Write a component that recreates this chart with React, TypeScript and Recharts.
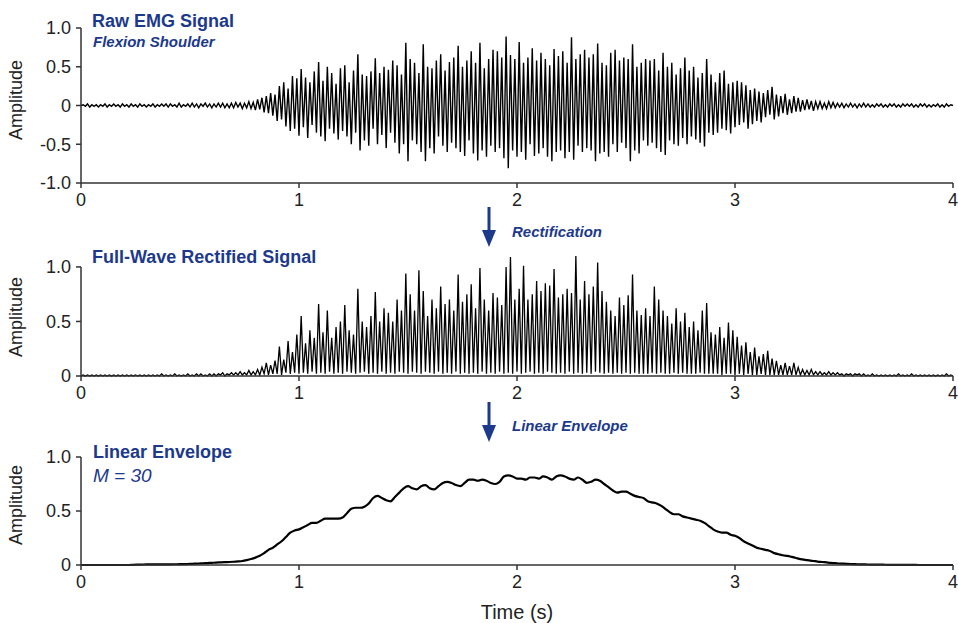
import { Line, LineChart, ReferenceLine, XAxis, YAxis } from "recharts";

// sample spacing (s)
const RAW_STEP = 0.01;
const ENV_STEP = 0.02;

const timeTicks = [0, 1, 2, 3, 4];
const rawTicks = [-1, -0.5, 0, 0.5, 1];
const unitTicks = [0, 0.5, 1];

// raw EMG (10 samples per row = 0.1 s)
const rawSignal = [
  0, 0.01, -0.01, 0.02, -0.02, 0.01, -0.01, 0.01, -0.02, 0.01,
  -0.01, 0.02, -0.02, 0.01, -0.01, 0.02, -0.01, 0.01, -0.02, 0.02,
  -0.01, 0.01, -0.02, 0.02, -0.01, 0.01, -0.02, 0.02, -0.01, 0.01,
  -0.02, 0.01, -0.01, 0.02, -0.02, 0.01, -0.01, 0.02, -0.01, 0.02,
  -0.02, 0.02, -0.01, 0.01, -0.02, 0.03, -0.02, 0.01, -0.01, 0.02,
  -0.02, 0.03, -0.02, 0.02, -0.03, 0.02, -0.01, 0.03, -0.02, 0.02,
  -0.03, 0.02, -0.02, 0.03, -0.02, 0.03, -0.03, 0.02, -0.03, 0.03,
  -0.03, 0.04, -0.02, 0.03, -0.04, 0.03, -0.03, 0.05, -0.04, 0.04,
  -0.06, 0.08, -0.05, 0.1, -0.09, 0.12, -0.1, 0.16, -0.13, 0.14,
  -0.2, 0.25, -0.18, 0.3, -0.27, 0.22, -0.33, 0.38, -0.3, 0.35,
  -0.39, 0.47, -0.28, 0.36, -0.42, 0.3, -0.25, 0.44, -0.35, 0.56,
  -0.4, 0.32, -0.46, 0.5, -0.3, 0.42, -0.36, 0.28, -0.44, 0.48,
  -0.33, 0.52, -0.4, 0.3, -0.5, 0.45, -0.35, 0.66, -0.58, 0.4,
  -0.45, 0.38, -0.52, 0.44, -0.3, 0.61, -0.5, 0.42, -0.38, 0.5,
  -0.55, 0.46, -0.35, 0.58, -0.48, 0.52, -0.62, 0.4, -0.5, 0.81,
  -0.72, 0.6, -0.45, 0.55, -0.5, 0.42, -0.6, 0.79, -0.72, 0.5,
  -0.55, 0.48, -0.62, 0.58, -0.4, 0.66, -0.52, 0.45, -0.6, 0.56,
  -0.48, 0.62, -0.55, 0.77, -0.6, 0.5, -0.65, 0.58, -0.45, 0.7,
  -0.62, 0.55, -0.71, 0.81, -0.58, 0.48, -0.66, 0.6, -0.52, 0.72,
  -0.6, 0.7, -0.55, 0.62, -0.68, 0.89, -0.81, 0.65, -0.58, 0.6,
  -0.66, 0.82, -0.6, 0.55, -0.7, 0.62, -0.5, 0.74, -0.65, 0.58,
  -0.62, 0.68, -0.55, 0.6, -0.66, 0.52, -0.72, 0.73, -0.6, 0.64,
  -0.58, 0.7, -0.68, 0.55, -0.6, 0.88, -0.7, 0.6, -0.52, 0.66,
  -0.6, 0.72, -0.55, 0.62, -0.58, 0.66, -0.72, 0.8, -0.62, 0.55,
  -0.6, 0.52, -0.66, 0.68, -0.5, 0.72, -0.6, 0.58, -0.48, 0.62,
  -0.55, 0.6, -0.72, 0.79, -0.58, 0.5, -0.62, 0.55, -0.45, 0.6,
  -0.52, 0.58, -0.48, 0.6, -0.55, 0.45, -0.6, 0.68, -0.64, 0.5,
  -0.45, 0.55, -0.5, 0.4, -0.52, 0.48, -0.42, 0.62, -0.5, 0.45,
  -0.4, 0.5, -0.44, 0.36, -0.48, 0.42, -0.53, 0.6, -0.35, 0.4,
  -0.38, 0.3, -0.35, 0.42, -0.3, 0.45, -0.32, 0.28, -0.36, 0.3,
  -0.28, 0.32, -0.25, 0.3, -0.22, 0.26, -0.3, 0.2, -0.24, 0.22,
  -0.2, 0.18, -0.22, 0.16, -0.15, 0.2, -0.12, 0.24, -0.18, 0.14,
  -0.14, 0.12, -0.1, 0.15, -0.12, 0.08, -0.1, 0.12, -0.08, 0.1,
  -0.08, 0.07, -0.06, 0.08, -0.05, 0.06, -0.07, 0.05, -0.04, 0.05,
  -0.04, 0.03, -0.04, 0.05, -0.03, 0.04, -0.03, 0.03, -0.02, 0.03,
  -0.03, 0.02, -0.02, 0.03, -0.02, 0.02, -0.03, 0.02, -0.02, 0.03,
  -0.02, 0.02, -0.02, 0.01, -0.02, 0.02, -0.01, 0.02, -0.02, 0.01,
  -0.02, 0.02, -0.01, 0.02, -0.02, 0.01, -0.02, 0.02, -0.01, 0.02,
  -0.01, 0.02, -0.02, 0.01, -0.02, 0.02, -0.01, 0.02, -0.02, 0.01,
  -0.02, 0.01, -0.01, 0.02, -0.02, 0.01, -0.02, 0.02, -0.01, 0.01,
  0,
];

// full-wave rectified signal, middle panel
const rectifiedSignal = [
  0, 0.01, 0, 0.01, 0, 0.01, 0, 0.01, 0, 0.01,
  0, 0.01, 0, 0.01, 0, 0.01, 0, 0.01, 0, 0.01,
  0, 0.01, 0, 0.01, 0, 0.01, 0, 0.01, 0, 0.01,
  0, 0.01, 0, 0.01, 0, 0.01, 0, 0.02, 0, 0.01,
  0, 0.01, 0, 0.02, 0, 0.01, 0, 0.01, 0, 0.02,
  0, 0.01, 0, 0.02, 0, 0.02, 0, 0.01, 0, 0.02,
  0, 0.02, 0, 0.02, 0.01, 0.03, 0, 0.02, 0.01, 0.03,
  0.01, 0.03, 0.01, 0.04, 0.01, 0.03, 0.01, 0.05, 0.01, 0.04,
  0.01, 0.06, 0.01, 0.08, 0.02, 0.12, 0.01, 0.1, 0.02, 0.14,
  0.02, 0.27, 0.01, 0.15, 0.03, 0.32, 0.02, 0.22, 0.03, 0.38,
  0.02, 0.55, 0.03, 0.3, 0.02, 0.42, 0.04, 0.35, 0.02, 0.66,
  0.03, 0.4, 0.02, 0.6, 0.04, 0.35, 0.02, 0.45, 0.03, 0.5,
  0.02, 0.65, 0.04, 0.42, 0.03, 0.38, 0.02, 0.8, 0.03, 0.5,
  0.04, 0.45, 0.02, 0.55, 0.03, 0.77, 0.02, 0.5, 0.04, 0.62,
  0.02, 0.58, 0.03, 0.5, 0.02, 0.7, 0.04, 0.6, 0.03, 0.94,
  0.02, 0.75, 0.04, 0.6, 0.03, 0.97, 0.02, 0.78, 0.04, 0.55,
  0.03, 0.7, 0.02, 0.62, 0.04, 0.82, 0.02, 0.66, 0.03, 0.7,
  0.02, 0.6, 0.04, 0.93, 0.02, 0.68, 0.03, 0.75, 0.02, 0.84,
  0.03, 0.62, 0.02, 0.99, 0.04, 0.7, 0.02, 0.6, 0.03, 0.76,
  0.02, 0.72, 0.04, 0.65, 0.02, 1.0, 0.03, 1.09, 0.02, 0.7,
  0.04, 0.8, 0.02, 1.01, 0.03, 0.7, 0.04, 0.75, 0.02, 0.87,
  0.03, 0.78, 0.02, 0.85, 0.04, 0.83, 0.03, 0.98, 0.02, 0.72,
  0.03, 0.75, 0.02, 0.8, 0.04, 0.76, 0.02, 1.1, 0.03, 0.7,
  0.02, 0.87, 0.03, 0.75, 0.02, 0.82, 0.04, 1.04, 0.03, 0.78,
  0.02, 0.68, 0.03, 0.6, 0.02, 0.55, 0.03, 0.72, 0.02, 0.65,
  0.03, 0.74, 0.02, 0.93, 0.03, 0.6, 0.02, 0.56, 0.02, 0.62,
  0.02, 0.55, 0.03, 0.82, 0.02, 0.7, 0.03, 0.6, 0.02, 0.55,
  0.02, 0.48, 0.03, 0.62, 0.02, 0.5, 0.03, 0.58, 0.02, 0.45,
  0.02, 0.5, 0.02, 0.42, 0.03, 0.6, 0.02, 0.67, 0.02, 0.4,
  0.02, 0.38, 0.02, 0.45, 0.01, 0.35, 0.02, 0.49, 0.02, 0.42,
  0.01, 0.36, 0.02, 0.28, 0.01, 0.31, 0.02, 0.22, 0.01, 0.26,
  0.01, 0.18, 0.02, 0.2, 0.01, 0.23, 0.01, 0.16, 0.01, 0.14,
  0.01, 0.1, 0.01, 0.12, 0.01, 0.09, 0.01, 0.12, 0.01, 0.08,
  0.01, 0.06, 0.01, 0.05, 0.01, 0.06, 0.01, 0.04, 0.01, 0.04,
  0.01, 0.03, 0.01, 0.04, 0.01, 0.03, 0.01, 0.03, 0.01, 0.02,
  0, 0.02, 0.01, 0.02, 0, 0.02, 0.01, 0.02, 0, 0.02,
  0, 0.01, 0, 0.02, 0, 0.01, 0, 0.01, 0, 0.01,
  0, 0.01, 0, 0.01, 0, 0.02, 0, 0.01, 0, 0.01,
  0, 0.02, 0, 0.01, 0, 0.01, 0, 0.01, 0, 0.01,
  0, 0.01, 0, 0.01, 0, 0.01, 0, 0.02, 0, 0.01,
  0,
];

// linear envelope (M = 30), bottom panel, 0.02 s per sample
const envelope = [
  0, 0, 0, 0, 0, 0, 0, 0, 0, 0,
  0, 0, 0.002, 0.003, 0.004, 0.005, 0.005, 0.005, 0.005, 0.006,
  0.006, 0.007, 0.007, 0.008, 0.009, 0.01, 0.012, 0.014, 0.016, 0.018,
  0.02, 0.022, 0.025, 0.027, 0.028, 0.03, 0.033, 0.037, 0.045, 0.055,
  0.068, 0.085, 0.11, 0.14, 0.16, 0.19, 0.22, 0.26, 0.3, 0.32,
  0.33, 0.35, 0.37, 0.39, 0.39, 0.41, 0.43, 0.43, 0.43, 0.43,
  0.44, 0.48, 0.52, 0.53, 0.53, 0.54, 0.57, 0.62, 0.64, 0.62,
  0.6, 0.59, 0.63, 0.67, 0.71, 0.73, 0.71, 0.7, 0.73, 0.74,
  0.71, 0.7, 0.73, 0.76, 0.77, 0.76, 0.74, 0.73, 0.76, 0.79,
  0.79, 0.78, 0.79, 0.78, 0.76, 0.75, 0.77, 0.82, 0.83, 0.82,
  0.8, 0.8, 0.79, 0.81, 0.81, 0.8, 0.82, 0.81, 0.79, 0.82,
  0.83, 0.82, 0.8, 0.79, 0.81, 0.79, 0.76, 0.77, 0.79, 0.78,
  0.75, 0.72, 0.69, 0.67, 0.68, 0.68, 0.66, 0.64, 0.63, 0.62,
  0.59, 0.58, 0.57, 0.55, 0.52, 0.49, 0.47, 0.47, 0.45, 0.44,
  0.43, 0.42, 0.41, 0.39, 0.36, 0.33, 0.31, 0.3, 0.3, 0.28,
  0.27, 0.25, 0.22, 0.2, 0.18, 0.16, 0.15, 0.14, 0.13, 0.11,
  0.1, 0.09, 0.085, 0.075, 0.065, 0.055, 0.048, 0.042, 0.037, 0.032,
  0.028, 0.024, 0.02, 0.017, 0.014, 0.012, 0.01, 0.008, 0.007, 0.006,
  0.005, 0.004, 0.004, 0.003, 0.003, 0.002, 0.002, 0.002, 0.001, 0.001,
  0.001, 0.001, 0, 0, 0, 0, 0, 0, 0, 0,
  0,
];

const toSeries = (values: number[], step: number) =>
  values.map((v, i) => ({ t: Math.round(i * step * 100) / 100, v }));

const FONT = '"Liberation Sans", Arial, sans-serif';
const NAVY = "#1c398c";
const AXIS = "#333";
const tickStyle = { fill: "#222", fontSize: 18, fontFamily: FONT };
const fmtY = (v: number) => (v === 0 ? "0" : v.toFixed(1));

type PanelProps = {
  top: number;
  height: number;
  data: { t: number; v: number }[];
  domain: [number, number];
  yTicks: number[];
  marginTop: number;
  marginBottom: number;
  xHeight: number;
  strokeWidth: number;
  curve: "linear" | "monotone";
  clipAxisAtOne?: boolean;
};

function Panel(p: PanelProps) {
  return (
    <div style={{ position: "absolute", left: 0, top: p.top }}>
      <LineChart
        width={958}
        height={p.height}
        data={p.data}
        margin={{ top: p.marginTop, right: 5, bottom: p.marginBottom, left: 0 }}
      >
        <XAxis
          dataKey="t"
          type="number"
          domain={[0, 4]}
          ticks={timeTicks}
          height={p.xHeight}
          tickSize={5}
          tickMargin={5}
          stroke={AXIS}
          strokeWidth={1.5}
          tick={tickStyle}
        />
        <YAxis
          type="number"
          domain={p.domain}
          ticks={p.yTicks}
          width={81}
          tickSize={5}
          tickMargin={5}
          stroke={AXIS}
          strokeWidth={1.5}
          axisLine={!p.clipAxisAtOne}
          tick={tickStyle}
          tickFormatter={fmtY}
          interval={0}
        />
        {p.clipAxisAtOne && (
          <ReferenceLine
            segment={[
              { x: 0, y: 0 },
              { x: 0, y: 1 },
            ]}
            stroke={AXIS}
            strokeWidth={1.5}
            ifOverflow="visible"
          />
        )}
        <Line
          dataKey="v"
          type={p.curve}
          stroke="#000"
          strokeWidth={p.strokeWidth}
          dot={false}
          isAnimationActive={false}
        />
      </LineChart>
    </div>
  );
}

function Arrow({ top, bottom }: { top: number; bottom: number }) {
  return (
    <g fill={NAVY} stroke={NAVY}>
      <line x1={489} y1={top} x2={489} y2={bottom - 14} strokeWidth={3} />
      <polygon points={`482,${bottom - 17} 496,${bottom - 17} 489,${bottom}`} stroke="none" />
    </g>
  );
}

export default function App() {
  return (
    <div
      style={{
        position: "absolute",
        left: 0,
        top: 0,
        width: 958,
        height: 623,
        background: "#fff",
        overflow: "hidden",
      }}
    >
      <Panel
        top={0}
        height={210}
        data={toSeries(rawSignal, RAW_STEP)}
        domain={[-1, 1]}
        yTicks={rawTicks}
        marginTop={28}
        marginBottom={0}
        xHeight={27}
        strokeWidth={1.4}
        curve="linear"
      />
      <Panel
        top={210}
        height={200}
        data={toSeries(rectifiedSignal, RAW_STEP)}
        domain={[0, 1.1]}
        yTicks={unitTicks}
        marginTop={46}
        marginBottom={7}
        xHeight={27}
        strokeWidth={1.3}
        curve="linear"
        clipAxisAtOne
      />
      <Panel
        top={410}
        height={213}
        data={toSeries(envelope, ENV_STEP)}
        domain={[0, 1]}
        yTicks={unitTicks}
        marginTop={47}
        marginBottom={0}
        xHeight={58}
        strokeWidth={2.2}
        curve="monotone"
      />
      <svg
        width={958}
        height={623}
        style={{ position: "absolute", left: 0, top: 0, pointerEvents: "none" }}
        fontFamily={FONT}
      >
        <text x={92} y={27} fontSize={18} fontWeight="bold" fill={NAVY}>
          Raw EMG Signal
        </text>
        <text x={93} y={47} fontSize={15} fontWeight="bold" fontStyle="italic" fill={NAVY}>
          Flexion Shoulder
        </text>
        <text x={92} y={263} fontSize={18} fontWeight="bold" fill={NAVY}>
          Full-Wave Rectified Signal
        </text>
        <text x={93} y={458} fontSize={18} fontWeight="bold" fill={NAVY}>
          Linear Envelope
        </text>
        <text x={93} y={482} fontSize={19} fontStyle="italic" fill={NAVY}>
          M = 30
        </text>

        <Arrow top={207} bottom={247} />
        <text x={512} y={237} fontSize={15} fontWeight="bold" fontStyle="italic" fill={NAVY}>
          Rectification
        </text>
        <Arrow top={402} bottom={442} />
        <text x={512} y={431} fontSize={15} fontWeight="bold" fontStyle="italic" fill={NAVY}>
          Linear Envelope
        </text>

        {[100, 317, 505].map((cy) => (
          <text
            key={cy}
            x={22}
            y={cy}
            fontSize={18}
            fill="#222"
            textAnchor="middle"
            transform={`rotate(-90, 22, ${cy})`}
          >
            Amplitude
          </text>
        ))}
        <text x={517} y={619} fontSize={20} fill="#222" textAnchor="middle">
          Time (s)
        </text>
      </svg>
    </div>
  );
}
